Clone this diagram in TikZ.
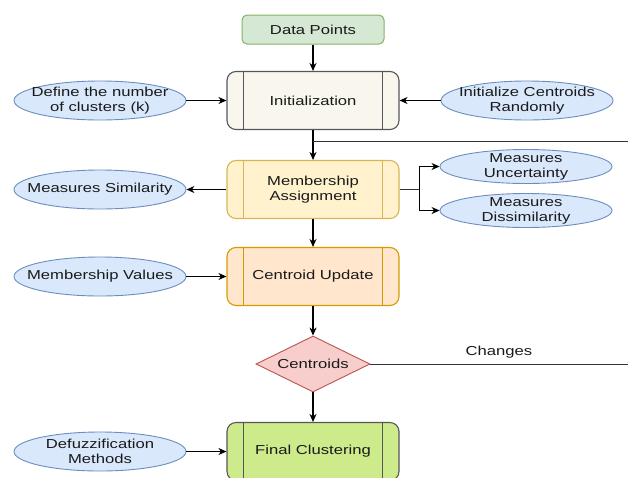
\documentclass[tikz,border=0pt]{standalone}
\usepackage{fontspec}
\setmainfont{Liberation Sans}[FakeStretch=1.28]
\usetikzlibrary{shapes.geometric,arrows.meta}
\definecolor{dpfill}{HTML}{D5E8D4}\definecolor{dpdraw}{HTML}{82B366}
\definecolor{infill}{HTML}{F9F7ED}\definecolor{indraw}{HTML}{36393D}
\definecolor{mafill}{HTML}{FFF2CC}\definecolor{madraw}{HTML}{D6B656}
\definecolor{cufill}{HTML}{FFE6CC}\definecolor{cudraw}{HTML}{D79B00}
\definecolor{cefill}{HTML}{F8CECC}\definecolor{cedraw}{HTML}{B85450}
\definecolor{fcfill}{HTML}{CDEB8B}
\definecolor{elfill}{HTML}{DAE8FC}\definecolor{eldraw}{HTML}{6C8EBF}
\definecolor{txt}{HTML}{1A1A1A}
\tikzset{
  procbox/.style={rectangle, rounded corners=9pt, minimum width=172pt, minimum height=58pt, line width=1.1pt, align=center, inner sep=0pt},
  infobox/.style={ellipse, fill=elfill, draw=eldraw, line width=0.9pt, minimum width=172pt, minimum height=39pt, inner xsep=-14pt, inner ysep=-6pt, align=center},
  arr/.style={-{Stealth[length=8pt,width=7pt,inset=2.5pt]}, line width=1.1pt, black},
  plain/.style={line width=0.9pt, draw=black!80},
}
\newcommand{\sidelines}[2]{\draw[#2, line width=1.1pt] ([xshift=17pt]#1.north west) -- ([xshift=17pt]#1.south west);
  \draw[#2, line width=1.1pt] ([xshift=-17pt]#1.north east) -- ([xshift=-17pt]#1.south east);}
\begin{document}
\begin{tikzpicture}[x=1pt,y=-1pt, font=\fontsize{13}{15}\selectfont, text=txt]
\useasboundingbox (0,0) rectangle (628,477);
\clip (0,0) rectangle (628,477);
\node[rectangle, rounded corners=5pt, fill=dpfill, draw=dpdraw, line width=1pt, minimum width=142pt, minimum height=29pt] (dp) at (313,29.5) {Data Points};
\node[procbox, fill=infill, draw=indraw!85] (init) at (313,100.5) {Initialization};
\sidelines{init}{indraw!85}
\node[procbox, fill=mafill, draw=madraw] (ma) at (313,189.5) {Membership\\Assignment};
\sidelines{ma}{madraw}
\node[procbox, fill=cufill, draw=cudraw] (cu) at (313,276.5) {Centroid Update};
\sidelines{cu}{cudraw}
\node[diamond, aspect=2, fill=cefill, draw=cedraw, line width=0.9pt, minimum width=114pt, minimum height=56pt, inner sep=0pt] (ce) at (313,364) {Centroids};
\node[procbox, fill=fcfill, draw=indraw!85] (fc) at (313,451.5) {Final Clustering};
\sidelines{fc}{indraw!85}

\node[infobox] (def) at (100,100.5) {Define the number\\of clusters (k)};
\node[infobox] (icr) at (527,100.5) {Initialize Centroids\\Randomly};
\node[infobox] (ms) at (100,189.5) {Measures Similarity};
\node[infobox, minimum height=34pt] (mu) at (526,166.5) {Measures\\Uncertainty};
\node[infobox, minimum height=34pt] (md) at (526,210.5) {Measures\\Dissimilarity};
\node[infobox] (mv) at (100,276.5) {Membership Values};
\node[infobox] (dm) at (100,451.5) {Defuzzification\\Methods};

\draw[arr] (dp) -- (init);
\draw[arr] (init) -- (ma);
\draw[arr] (ma) -- (cu);
\draw[arr] (cu) -- (ce);
\draw[arr] (ce) -- (fc);
\draw[arr] (def) -- (init);
\draw[arr] (icr) -- (init);
\draw[arr] (ma) -- (ms);
\draw[arr] (mv) -- (cu);
\draw[arr] (dm) -- (fc);
\coordinate (split) at (419.5,189.5);
\draw[plain] (ma.east) -- (split);
\draw[arr] (split) |- (mu.west);
\draw[arr] (split) |- (md.west);
\coordinate (loopr) at (634,364.5);
\coordinate (joinpt) at (313,141.5);
\draw[plain] (ce.east) -- (ce.east |- loopr) -- (loopr) |- (joinpt);
\node[anchor=south] (chg) at (499,362) {Changes};
\end{tikzpicture}
\end{document}
